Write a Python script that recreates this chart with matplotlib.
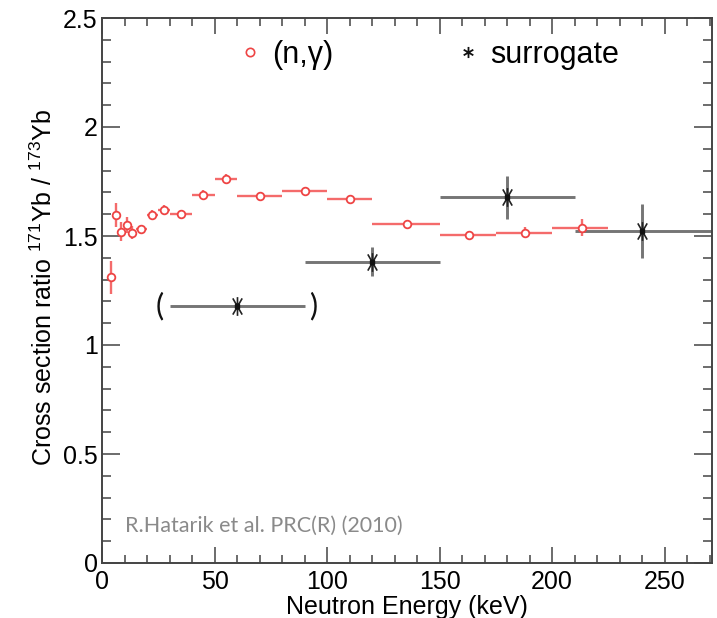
import matplotlib
matplotlib.use("Agg")
import matplotlib.pyplot as plt
from matplotlib.path import Path
from matplotlib.lines import Line2D
import numpy as np

plt.rcParams['font.family'] = ['Liberation Sans', 'DejaVu Sans']
plt.rcParams['mathtext.fontset'] = 'custom'
plt.rcParams['mathtext.rm'] = 'Liberation Sans'
plt.rcParams['mathtext.it'] = 'Liberation Sans:italic'

# (n,gamma) data
ng_x = [3.9, 6.1, 8.6, 11.0, 13.5, 17.2, 22.2, 27.5, 34.9, 45.0, 55.1, 70.2, 90.0, 110.0, 135.3, 163.0, 188.0, 213.1]
ng_lo = [2.5, 5, 7.5, 10, 12.5, 15, 20, 25, 30, 40, 50, 60, 80, 100, 120, 150, 175, 200]
ng_hi = [5, 7.5, 10, 12.5, 15, 20, 25, 30, 40, 50, 60, 80, 100, 120, 150, 175, 200, 225]
ng_y = [1.31, 1.597, 1.52, 1.552, 1.514, 1.531, 1.597, 1.62, 1.60, 1.69, 1.761, 1.682, 1.706, 1.668, 1.555, 1.505, 1.516, 1.538]
ng_err = [0.076, 0.055, 0.042, 0.036, 0.03, 0.021, 0.02, 0.02, 0.02, 0.02, 0.023, 0.02, 0.02, 0.02, 0.02, 0.02, 0.027, 0.038]

# surrogate data
sr_x = [60, 120, 180, 240]
sr_lo = [30, 90, 150, 210]
sr_hi = [90, 150, 210, 280]
sr_y = [1.178, 1.383, 1.677, 1.525]
sr_err = [0.0, 0.067, 0.099, 0.124]

x_ticks = [0, 50, 100, 150, 200, 250]
y_ticks = [0, 0.5, 1, 1.5, 2, 2.5]
y_ticklabels = ['0', '0.5', '1', '1.5', '2', '2.5']

W, H = 717, 618
fig = plt.figure(figsize=(W / 100, H / 100), dpi=100)
ax = fig.add_axes([102 / W, (H - 563) / H, 610 / W, 545 / H])

red_line = '#f46b6b'
red_mk = '#ee4444'
gray_line = '#757575'

ngx = np.array(ng_x)
xerr_ng = [ngx - np.array(ng_lo), np.array(ng_hi) - ngx]
ax.errorbar(ng_x, ng_y, yerr=ng_err, xerr=xerr_ng, fmt='none', ecolor=red_line,
            elinewidth=1.7, capsize=0, zorder=2)
ax.plot(ng_x, ng_y, ls='none', marker='o', ms=5.5, mfc='white', mec=red_mk, mew=1.3, zorder=3)

srx = np.array(sr_x)
xerr_sr = [srx - np.array(sr_lo), np.array(sr_hi) - srx]
ax.errorbar(sr_x, sr_y, yerr=sr_err, xerr=xerr_sr, fmt='none', ecolor=gray_line,
            elinewidth=2.1, capsize=0, zorder=2)

c, s = 0.5, 0.866
ast = Path([(0, -1), (0, 1), (-c, -s), (c, s), (-c, s), (c, -s)],
           [Path.MOVETO, Path.LINETO, Path.MOVETO, Path.LINETO, Path.MOVETO, Path.LINETO])
ast2 = Path([(0, -1), (0, 1), (-s, -c), (s, c), (-s, c), (s, -c)],
            [Path.MOVETO, Path.LINETO, Path.MOVETO, Path.LINETO, Path.MOVETO, Path.LINETO])
ax.plot(sr_x, sr_y, ls='none', marker=ast, ms=13.5, mfc='none', mec='#222222', mew=1.2, zorder=4)
ax.plot(sr_x, sr_y, ls='none', marker='s', ms=3.5, mfc='#111111', mec='#111111', zorder=5)

# parentheses around first surrogate point
ax.text(25.8, sr_y[0], '(', fontsize=22, family='Lato', ha='center', va='center', color='#111111')
ax.text(93.7, sr_y[0], ')', fontsize=22, family='Lato', ha='center', va='center', color='#111111')

ax.set_xlim(0, 271)
ax.set_ylim(0, 2.5)
ax.set_xticks(x_ticks)
ax.set_xticks(np.arange(0, 271, 10), minor=True)
ax.set_yticks(y_ticks)
ax.set_yticklabels(y_ticklabels)
ax.set_yticks(np.arange(0, 2.51, 0.1), minor=True)

tc = '#444444'
ax.tick_params(axis='both', which='both', direction='in', top=True, right=True, color=tc,
               width=1.1, labelsize=18, labelcolor='black')
ax.tick_params(axis='x', which='major', length=11.5, pad=5)
ax.tick_params(axis='x', which='minor', length=5.8)
ax.tick_params(axis='y', which='major', length=13, pad=3)
ax.tick_params(axis='y', which='minor', length=6.5)
for sp in ax.spines.values():
    sp.set_color(tc)
    sp.set_linewidth(1.4)

ax.set_xlabel('Neutron Energy (keV)', fontsize=18)
ax.xaxis.set_label_coords(0.5, -0.058)
ax.set_ylabel(r'Cross section ratio $^{171}$Yb / $^{173}$Yb', fontsize=18)
ax.yaxis.set_label_coords(-0.074, 0.505)

handles = [Line2D([], [], ls='none', marker='o', ms=6, mfc='white', mec=red_mk, mew=1.2),
           Line2D([], [], ls='none', marker=ast2, ms=8, mfc='none', mec='#111111', mew=1.3)]
ax.legend(handles, ['(n,γ)', 'surrogate'], ncol=2, frameon=False, fontsize=22,
          loc='center left', bbox_to_anchor=((241 - 102) / 610, (563 - 55) / 545),
          borderaxespad=0, borderpad=0, handlelength=0.6, handletextpad=0.43,
          columnspacing=4.1)

ax.text((125 - 102) / 610, (563 - 526) / 545, 'R.Hatarik et al. PRC(R) (2010)', transform=ax.transAxes,
        fontsize=15.5, family='Lato', color='#8a8a8a', ha='left', va='center')

fig.savefig('out.png', dpi=100)
